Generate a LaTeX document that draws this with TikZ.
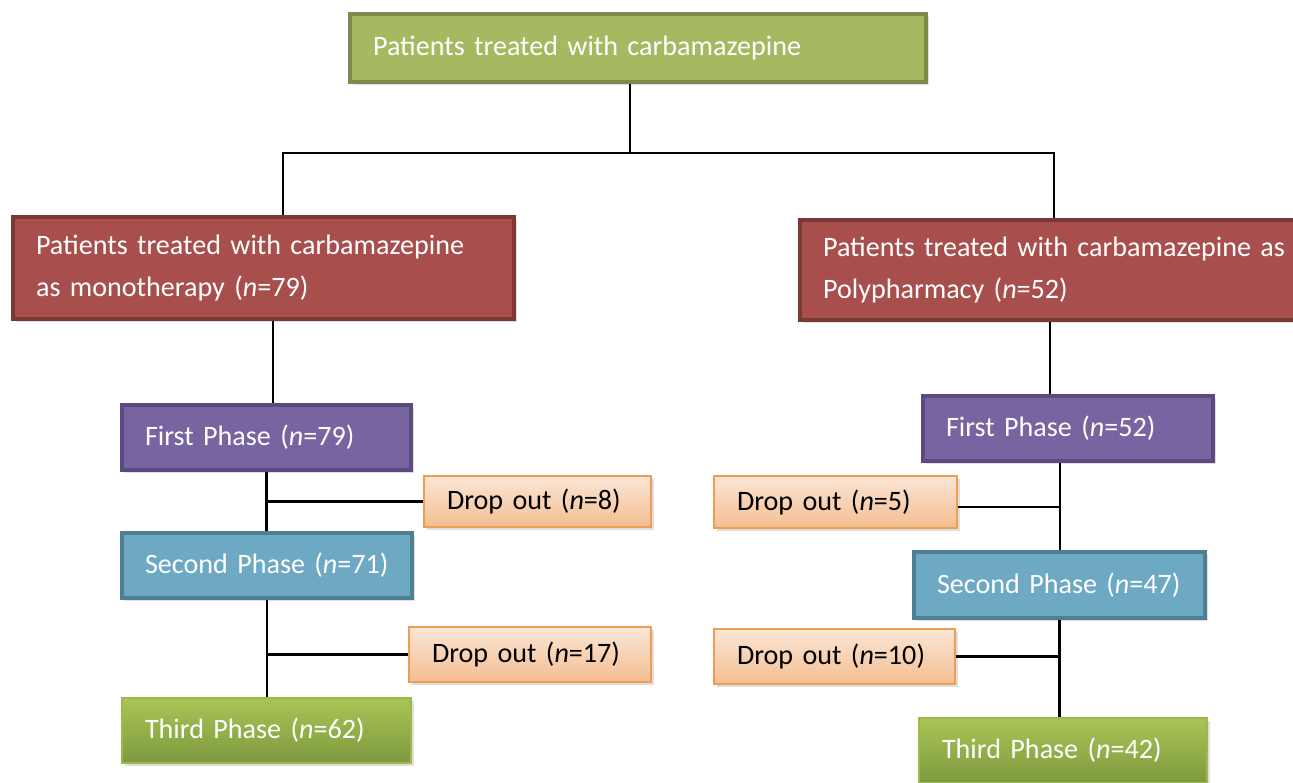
\documentclass[tikz,border=0pt]{standalone}
\usepackage{fontspec}
\setmainfont{Carlito}
\usepackage{tikz}
\usetikzlibrary{shapes,arrows,positioning,shadows}
\definecolor{topfill}{HTML}{A6B960}
\definecolor{topline}{HTML}{7D8B48}
\definecolor{redfill}{HTML}{A84F4E}
\definecolor{redline}{HTML}{7B3837}
\definecolor{purfill}{HTML}{7764A0}
\definecolor{purline}{HTML}{5B4A80}
\definecolor{bluefill}{HTML}{6EA9C4}
\definecolor{blueline}{HTML}{4E7F93}
\definecolor{droptop}{HTML}{FBE6D6}
\definecolor{dropbot}{HTML}{F3BE92}
\definecolor{dropline}{HTML}{EE9E52}
\definecolor{thirdtop}{HTML}{A9C555}
\definecolor{thirdbot}{HTML}{7E993F}
\definecolor{thirdline}{HTML}{9DB94E}

\begin{document}
\begin{tikzpicture}[x=0.02cm, y=-0.02cm,
                   every node/.style={font=\fontsize{16}{23.8}\selectfont},
                   box/.style={rectangle, inner xsep=0.46cm, inner ysep=0pt, align=left,
                     line width=2.2pt, drop shadow={opacity=0.25, shadow xshift=0.6mm, shadow yshift=-0.6mm}},
                   topbox/.style={box, fill=topfill, draw=topline, text=white},
                   groupbox/.style={box, fill=redfill, draw=redline, text=white},
                   firstbox/.style={box, fill=purfill, draw=purline, text=white},
                   secondbox/.style={box, fill=bluefill, draw=blueline, text=white},
                   thirdbox/.style={box, top color=thirdtop, bottom color=thirdbot, draw=thirdline, line width=0.8pt, text=white},
                   dropbox/.style={box, top color=droptop, bottom color=dropbot, draw=dropline, line width=1pt, text=black},
                   link/.style={line width=0.8pt},
                   branch/.style={line width=1.2pt}]
          \useasboundingbox (0,0) rectangle (1293,783);
          % top
          \node[topbox, text width=10.6cm, minimum height=1.36cm] (top) at (638,48) {\mbox{Patients treated with carbamazepine}};
          % groups
          \node[groupbox, text width=9.1cm, minimum height=2.04cm] (mono) at (263.5,268)
            {Patients treated with carbamazepine\\as monotherapy (\textit{n}=79)};
          \node[groupbox, text width=9.48cm, minimum height=2.0cm] (poly) at (1060,270)
            {Patients treated with carbamazepine as\\Polypharmacy (\textit{n}=52)};
          % monotherapy phases
          \node[firstbox, text width=4.86cm, minimum height=1.3cm] (firstL) at (266.5,437.5) {\mbox{First Phase (\textit{n}=79)}};
          \node[dropbox, text width=3.62cm, minimum height=1.02cm] (dropL1) at (537.5,501.5) {\mbox{Drop out (\textit{n}=8)}};
          \node[secondbox, text width=4.88cm, minimum height=1.3cm] (secondL) at (267,565.5) {\mbox{Second Phase (\textit{n}=71)}};
          \node[dropbox, text width=3.92cm, minimum height=1.1cm] (dropL2) at (530,654.5) {\mbox{Drop out (\textit{n}=17)}};
          \node[thirdbox, text width=4.86cm, minimum height=1.3cm] (thirdL) at (266.5,730.5) {\mbox{Third Phase (\textit{n}=62)}};
          % polypharmacy phases
          \node[firstbox, text width=4.88cm, minimum height=1.3cm] (firstR) at (1068,428.5) {\mbox{First Phase (\textit{n}=52)}};
          \node[dropbox, text width=3.94cm, minimum height=1.04cm] (dropR1) at (835.5,502) {\mbox{Drop out (\textit{n}=5)}};
          \node[secondbox, text width=4.9cm, minimum height=1.32cm] (secondR) at (1059.5,585) {\mbox{Second Phase (\textit{n}=47)}};
          \node[dropbox, text width=3.9cm, minimum height=1.1cm] (dropR2) at (834.5,656.5) {\mbox{Drop out (\textit{n}=10)}};
          \node[thirdbox, text width=4.84cm, minimum height=1.3cm] (thirdR) at (1063,750.5) {\mbox{Third Phase (\textit{n}=42)}};
          % connectors
          \draw[link] ([xshift=-1.6mm]top.south) -- ++(0,-1.38cm) coordinate (split);
          \draw[link] ([xshift=3.9mm]mono.north) |- (split) -| ([xshift=-1.2mm]poly.north);
          \draw[link] ([xshift=1.9mm]mono.south) -- ([xshift=1.9mm]mono.south |- firstL.north);
          \draw[link] ([xshift=-2mm]poly.south) -- ([xshift=-2mm]poly.south |- firstR.north);
          \draw[branch] (firstL.south) -- (firstL.south |- secondL.north);
          \draw[branch] (dropL1.west) -- (dropL1.west -| firstL.south);
          \draw[branch] (secondL.south) -- (secondL.south |- thirdL.north);
          \draw[branch] (dropL2.west) -- (dropL2.west -| secondL.south);
          \draw[branch] ([xshift=-1.6mm]firstR.south) -- ([xshift=-1.6mm]firstR.south |- secondR.north);
          \draw[branch] ([yshift=-1mm]dropR1.east) -- ([yshift=-1mm]dropR1.east -| secondR.north);
          \draw[branch] (secondR.south) -- (secondR.south |- thirdR.north);
          \draw[branch] (dropR2.east) -- (dropR2.east -| secondR.south);
        \end{tikzpicture}
\end{document}
